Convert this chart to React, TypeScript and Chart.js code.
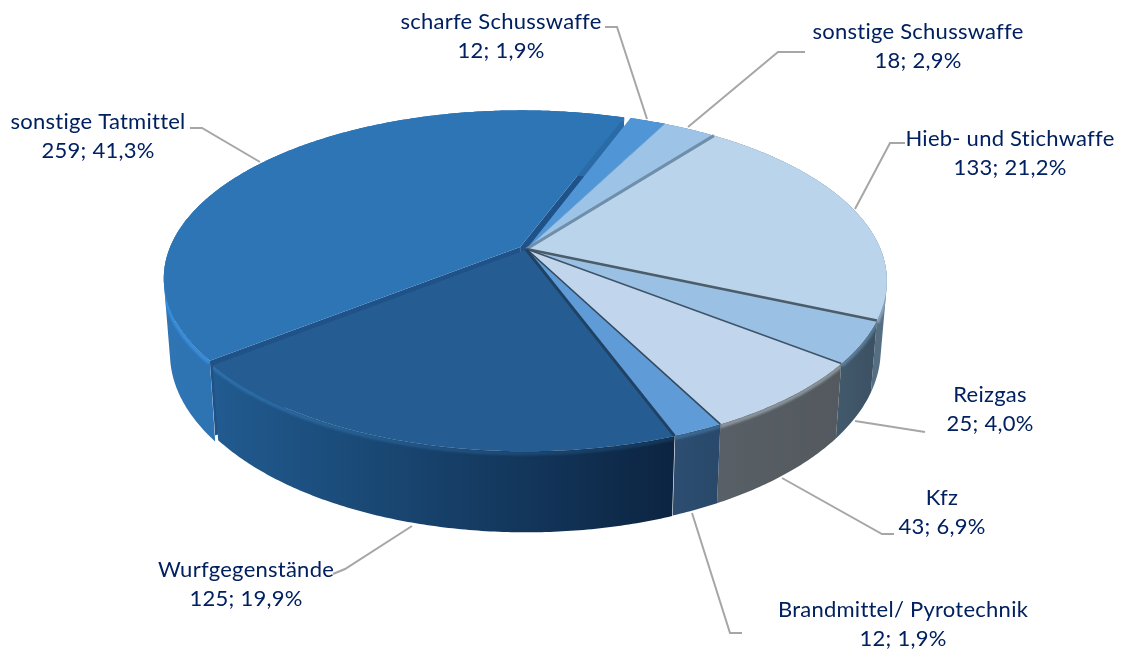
import React, { useEffect, useRef } from "react";
import { Chart, registerables } from "chart.js";

Chart.register(...registerables);

const categories = ["sonstige Tatmittel", "scharfe Schusswaffe", "sonstige Schusswaffe", "Hieb- und Stichwaffe", "Reizgas", "Kfz", "Brandmittel/ Pyrotechnik", "Wurfgegenstände"];
const values = [259, 12, 18, 133, 25, 43, 12, 125];
const percents = ["41,3%", "1,9%", "2,9%", "21,2%", "4,0%", "6,9%", "1,9%", "19,9%"];

const topColors = ["#2e75b6", "#5096d6", "#9dc3e6", "#b9d4eb", "#9ac1e4", "#c1d6ed", "#5f9bd7", "#255d92"];
const wallStart = ["#2f74b3", "#3a6ea0", "#5b7d99", "#566e82", "#42596b", "#585f66", "#2d4e71", "#215b90"];
const wallEnd = ["#2a6aa6", "#3a6ea0", "#5b7d99", "#566e82", "#3b5163", "#53595e", "#29486a", "#0c2441"];
const bevelStart = ["#3a90de", "#4a86c0", "#7fa5c5", "#93abc0", "#5f829e", "#8d979f", "#3f6d99", "#2f72ad"];
const bevelEnd = ["#2f7fc8", "#4a86c0", "#7fa5c5", "#8aa4ba", "#5a7a94", "#8a959d", "#3a6690", "#143658"];
const edgeColors = ["", "", "#6fa6da", "#6f8eaa", "#4c5c69", "#3e5468", "#33495e", "#1f4264"];
const edgeWidths = [0, 0, 1, 3, 2.5, 1.6, 1.6, 3];
const cutColor = "#1f5289";
const offsets = [2.2, 0, 0, 0, 0, 0, 0, 0.4];

const labelX = [98, 501, 918, 1010, 990, 942, 903, 246];
const labelY = [122, 22, 32, 139, 395, 498, 610, 570];
const leaders = [
  [[190, 128], [202, 128], [260, 162]],
  [[605, 27], [617, 27], [647, 119]],
  [[805, 52], [778, 52], [688, 127]],
  [[905, 143], [890, 143], [855, 209]],
  [[855, 421], [925, 432]],
  [[782, 478], [882, 534], [894, 534]],
  [[692, 513], [730, 633], [742, 633]],
  [[412, 526], [345, 569], [333, 574]],
];

const CX = 526.5, CY = 249, A = 354, B = 164, K = 0.187;
const proj = (u: number, v: number) => {
  const w = 1 - K * v;
  return [CX + (A * u) / w, CY + (B * v) / w];
};
const lower = (p: number[], extra = 0) => [CX + 0.983 * (p[0] - CX), p[1] + 75 + extra + 0.07 * (p[1] - 365)];

const pie3d = {
  id: "pie3d",
  beforeDatasetDraw(chart: any) {
    const ctx = chart.ctx as CanvasRenderingContext2D;
    const arcs = chart.getDatasetMeta(0).data.map((arc: any) => {
      const off = (arc.options.offset || 0) * 0.01;
      const mid = (arc.startAngle + arc.endAngle) / 2;
      const ox = Math.cos(mid) * off, oy = Math.sin(mid) * off;
      const r = 1 - off * 0.4;
      const n = Math.max(2, Math.ceil((arc.endAngle - arc.startAngle) / 0.01));
      const rim: number[][] = [];
      for (let i = 0; i <= n; i++) {
        const a = arc.startAngle + ((arc.endAngle - arc.startAngle) * i) / n;
        rim.push(proj(r * Math.cos(a) + ox, r * Math.sin(a) + oy));
      }
      const cut = off > 0.01;
      const low = rim.map((p) => lower(p, cut ? 6 : 0));
      return { apex: proj(ox, oy), rim, low, cut };
    });
    const path = (pts: number[][]) => {
      ctx.beginPath();
      pts.forEach((p, i) => (i ? ctx.lineTo(p[0], p[1]) : ctx.moveTo(p[0], p[1])));
    };
    // the wall as a union of equally wound quads, so its outline follows the tangent at both sides
    const wallPath = (s: any) => {
      ctx.beginPath();
      for (let i = 0; i < s.rim.length - 1; i++) {
        const q = [s.rim[i], s.rim[i + 1], s.low[i + 1], s.low[i]];
        let area = 0;
        q.forEach((p, j) => {
          const o = q[(j + 1) % 4];
          area += p[0] * o[1] - o[0] * p[1];
        });
        if (area < 0) q.reverse();
        q.forEach((p, j) => (j ? ctx.lineTo(p[0], p[1]) : ctx.moveTo(p[0], p[1])));
        ctx.closePath();
      }
    };
    const grad = (pts: number[][], c1: string, c2: string) => {
      const xs = pts.map((p) => p[0]);
      const g = ctx.createLinearGradient(Math.min(...xs), 0, Math.max(...xs) + 1, 0);
      g.addColorStop(0, c1);
      g.addColorStop(1, c2);
      return g;
    };
    ctx.save();
    // cut faces of the pulled-out slice
    arcs.forEach((s: any) => {
      if (!s.cut) return;
      [s.rim[0], s.rim[s.rim.length - 1]].forEach((e: number[]) => {
        path([s.apex, e, lower(e), lower(s.apex)]);
        ctx.closePath();
        ctx.fillStyle = cutColor;
        ctx.fill();
      });
    });
    // outer walls
    arcs.forEach((s: any, i: number) => {
      wallPath(s);
      ctx.fillStyle = grad(s.rim, wallStart[i], wallEnd[i]);
      ctx.fill();
    });
    // bevel along the rim, kept inside the wall
    arcs.forEach((s: any, i: number) => {
      ctx.save();
      wallPath(s);
      ctx.clip();
      ctx.filter = "blur(1px)";
      path(s.rim.map((p: number[]) => [p[0], p[1] + 2]));
      ctx.strokeStyle = grad(s.rim, bevelStart[i], bevelEnd[i]);
      ctx.lineWidth = 4;
      ctx.stroke();
      ctx.restore();
    });
    // top faces
    arcs.forEach((s: any, i: number) => {
      path([s.apex, ...s.rim]);
      ctx.closePath();
      ctx.fillStyle = topColors[i];
      ctx.fill();
    });
    // seams between slices
    arcs.forEach((s: any, i: number) => {
      if (!edgeWidths[i]) return;
      path([s.apex, s.rim[0]]);
      ctx.strokeStyle = edgeColors[i];
      ctx.lineWidth = edgeWidths[i];
      ctx.stroke();
    });
    ctx.restore();
    return false;
  },
  afterDatasetsDraw(chart: any) {
    const ctx = chart.ctx as CanvasRenderingContext2D;
    ctx.save();
    ctx.strokeStyle = "#a6a6a6";
    ctx.lineWidth = 2;
    leaders.forEach((l) => {
      ctx.beginPath();
      l.forEach((p, i) => (i ? ctx.lineTo(p[0], p[1]) : ctx.moveTo(p[0], p[1])));
      ctx.stroke();
    });
    ctx.fillStyle = "#002060";
    ctx.font = "22px Lato";
    (ctx as any).letterSpacing = "0.25px";
    ctx.textAlign = "center";
    ctx.textBaseline = "middle";
    categories.forEach((c, i) => {
      ctx.fillText(c, labelX[i], labelY[i]);
      ctx.fillText(`${values[i]}; ${percents[i]}`, labelX[i], labelY[i] + 28.5);
    });
    ctx.restore();
  },
};

export default function App() {
  const ref = useRef<HTMLCanvasElement>(null);
  useEffect(() => {
    const chart = new Chart(ref.current!, {
      type: "pie",
      data: {
        labels: categories,
        datasets: [{ data: values, backgroundColor: topColors, offset: offsets, borderWidth: 0 }],
      },
      options: {
        animation: false,
        responsive: false,
        rotation: -128.5,
        plugins: { legend: { display: false }, tooltip: { enabled: false } },
      },
      plugins: [pie3d],
    } as any);
    return () => chart.destroy();
  }, []);
  return (
    <div style={{ position: "absolute", left: 0, top: 0, width: 1121, height: 649, background: "#fff" }}>
      <canvas ref={ref} width={1121} height={649} style={{ display: "block" }} />
    </div>
  );
}
